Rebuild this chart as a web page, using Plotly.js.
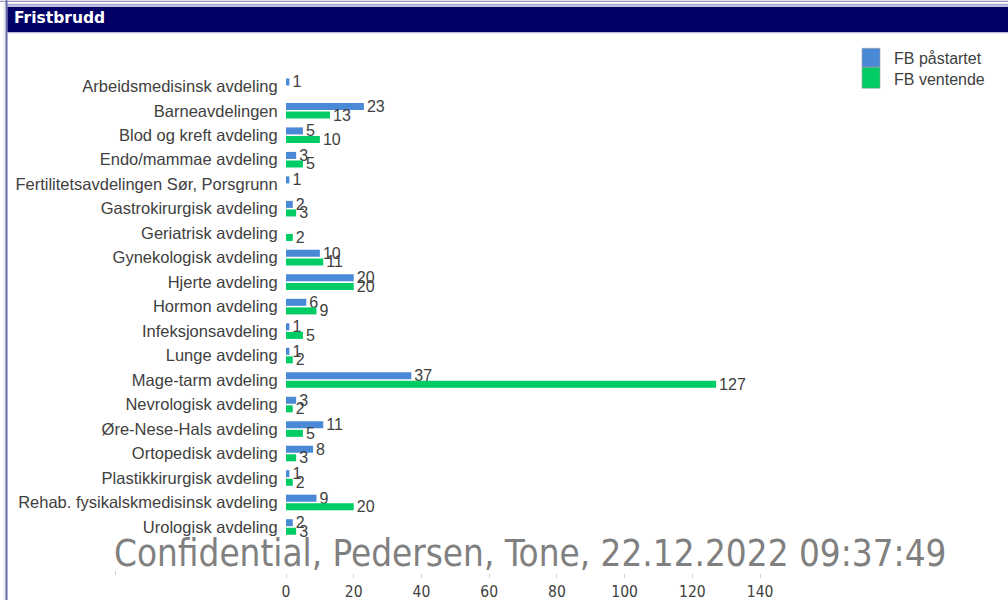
<!DOCTYPE html>
<html>
<head>
<meta charset="utf-8">
<script src="https://cdn.plot.ly/plotly-3.0.1.min.js"></script>
<style>
  html, body { margin: 0; padding: 0; background: #ffffff; }
  #chart { width: 1008px; height: 600px; }
</style>
</head>
<body>
<div id="chart"></div>
<script>
// ---- data ----
const categories = [
  "Arbeidsmedisinsk avdeling",
  "Barneavdelingen",
  "Blod og kreft avdeling",
  "Endo/mammae avdeling",
  "Fertilitetsavdelingen Sør, Porsgrunn",
  "Gastrokirurgisk avdeling",
  "Geriatrisk avdeling",
  "Gynekologisk avdeling",
  "Hjerte avdeling",
  "Hormon avdeling",
  "Infeksjonsavdeling",
  "Lunge avdeling",
  "Mage-tarm avdeling",
  "Nevrologisk avdeling",
  "Øre-Nese-Hals avdeling",
  "Ortopedisk avdeling",
  "Plastikkirurgisk avdeling",
  "Rehab. fysikalskmedisinsk avdeling",
  "Urologisk avdeling"
];
const seriesNames = ["FB påstartet", "FB ventende"];
const fbPastartet = [1, 23, 5, 3, 1, 2, null, 10, 20, 6, 1, 1, 37, 3, 11, 8, 1, 9, 2];
const fbVentende  = [null, 13, 10, 5, null, 3, 2, 11, 20, 9, 5, 2, 127, 2, 5, 3, 2, 20, 3];
const xTickVals = [0, 20, 40, 60, 80, 100, 120, 140];
const headerTitle = "Fristbrudd";
const watermark = "Confidential, Pedersen, Tone, 22.12.2022 09:37:49";

// ---- styling / layout helpers (pixel -> paper) ----
const W = 1008, H = 600;
const PL = 286, PR = 794, PT = 73.75, PB = 573;
const px = x => (x - PL) / (PR - PL);
const py = y => (PB - y) / (PB - PT);
const colors = ["#4a89d6", "#00cc66"];
const txtColor = "#404040";
const sans = "Liberation Sans, Arial, sans-serif";
const narrow = "Liberation Sans Narrow, Arial Narrow, DejaVu Sans Condensed, sans-serif";

const toText = arr => arr.map(v => (v === null ? "" : String(v)));

const traces = [fbPastartet, fbVentende].map((vals, i) => ({
  type: "bar",
  orientation: "h",
  name: seriesNames[i],
  y: categories,
  x: vals,
  text: toText(vals),
  textposition: "outside",
  cliponaxis: false,
  constraintext: "none",
  textfont: { family: sans, size: 16, color: txtColor },
  marker: { color: colors[i], line: { width: 0 } },
  hoverinfo: "x+y+name"
}));

const shapes = [
  // frame lines
  { type: "line", xref: "paper", yref: "paper", x0: px(0), x1: px(W), y0: py(1), y1: py(1), line: { color: "#7a7ab0", width: 1 } },
  { type: "line", xref: "paper", yref: "paper", x0: px(6), x1: px(W), y0: py(4.5), y1: py(4.5), line: { color: "#a8a8d4", width: 2 } },
  { type: "line", xref: "paper", yref: "paper", x0: px(4), x1: px(4), y0: py(0), y1: py(H), line: { color: "#dcdcdc", width: 1 } },
  { type: "line", xref: "paper", yref: "paper", x0: px(6.5), x1: px(6.5), y0: py(0), y1: py(H), line: { color: "#6464a8", width: 2 } },
  // header bar
  { type: "rect", xref: "paper", yref: "paper", x0: px(7.5), x1: px(W), y0: py(6.5), y1: py(32), fillcolor: "#000066", line: { width: 0 } },
  { type: "line", xref: "paper", yref: "paper", x0: px(7.5), x1: px(W), y0: py(32.5), y1: py(32.5), line: { color: "#b8b8e0", width: 1 } },
  // legend swatches
  { type: "rect", xref: "paper", yref: "paper", x0: px(862), x1: px(880), y0: py(48), y1: py(67), fillcolor: colors[0], line: { color: "#9a9a9a", width: 0.6 } },
  { type: "rect", xref: "paper", yref: "paper", x0: px(862), x1: px(880), y0: py(67), y1: py(88), fillcolor: colors[1], line: { color: "#9a9a9a", width: 0.6 } },
  // small axis start mark
  { type: "line", xref: "paper", yref: "paper", x0: px(115.5), x1: px(115.5), y0: py(571), y1: py(575), line: { color: "#cccccc", width: 1 } }
];

const annotations = [
  { xref: "paper", yref: "paper", x: px(12), y: py(18), xanchor: "left", yanchor: "middle", showarrow: false,
    text: "<b>" + headerTitle + "</b>", font: { family: "DejaVu Sans, Verdana, sans-serif", size: 15.5, color: "#ffffff" } },
  { xref: "paper", yref: "paper", x: px(892), y: py(58), xanchor: "left", yanchor: "middle", showarrow: false,
    text: seriesNames[0], font: { family: sans, size: 16, color: txtColor } },
  { xref: "paper", yref: "paper", x: px(892), y: py(79), xanchor: "left", yanchor: "middle", showarrow: false,
    text: seriesNames[1], font: { family: sans, size: 16, color: txtColor } },
  { xref: "paper", yref: "paper", x: px(530), y: py(553), xanchor: "center", yanchor: "middle", showarrow: false,
    text: watermark, font: { family: narrow, size: 36.5, color: "#808080" } }
];

const layout = {
  width: W, height: H,
  margin: { l: PL, r: W - PR, t: PT, b: H - PB, pad: 0 },
  paper_bgcolor: "#ffffff",
  plot_bgcolor: "#ffffff",
  showlegend: false,
  barmode: "group",
  bargap: 0.3,
  bargroupgap: 0.18,
  font: { family: sans, color: txtColor },
  xaxis: {
    range: [0, 150],
    tickvals: xTickVals,
    ticktext: xTickVals.map(String),
    showgrid: false, zeroline: false, showline: false,
    ticks: "outside", ticklen: 4, tickcolor: "#d0d0d0", tickwidth: 1,
    ticklabelstandoff: 0,
    tickfont: { family: narrow, size: 15.5, color: "#404040" },
    fixedrange: true
  },
  yaxis: {
    type: "category",
    categoryorder: "array",
    categoryarray: categories,
    range: [19.88, -0.5],
    showgrid: false, zeroline: false, showline: false,
    ticks: "outside", ticklen: 4, tickcolor: "rgba(0,0,0,0)",
    tickfont: { family: sans, size: 16.5, color: "#404040" },
    fixedrange: true
  },
  shapes: shapes,
  annotations: annotations
};

Plotly.newPlot("chart", traces, layout, { displayModeBar: false, staticPlot: true });
</script>
</body>
</html>
